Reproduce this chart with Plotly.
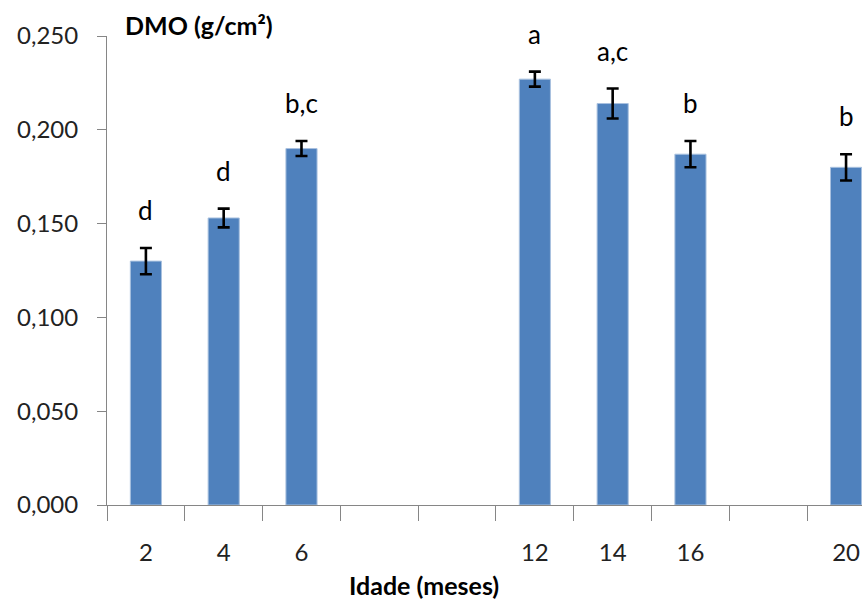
import plotly.graph_objects as go

# Bone mineral density by age group
ages = [2, 4, 6, 12, 14, 16, 20]
dmo = [0.130, 0.153, 0.190, 0.227, 0.214, 0.187, 0.180]
dmo_err = [0.007, 0.005, 0.004, 0.004, 0.008, 0.007, 0.007]
letters = ["d", "d", "b,c", "a", "a,c", "b", "b"]

# category axis runs 2..20 in steps of 2 (some slots empty)
all_slots = list(range(2, 22, 2))
pos = [all_slots.index(a) for a in ages]

FONT = "Lato"
BAR = "#4F81BD"
AXIS = "#868686"

fig = go.Figure()
fig.add_trace(go.Bar(
    x=pos, y=dmo, width=0.4,
    marker=dict(color=BAR, line=dict(color="#A9C1DF", width=1)),
    error_y=dict(type="data", array=dmo_err, visible=True,
                 color="black", thickness=2.6, width=6),
    showlegend=False,
))

# significance letters above each bar
for p, v, e, t in zip(pos, dmo, dmo_err, letters):
    fig.add_annotation(x=p, y=v + e, text=t, showarrow=False,
                       yanchor="middle", yshift=38,
                       font=dict(family=FONT, size=26, color="black"))

fig.add_annotation(x=0, xref="paper", y=1.0, yref="paper",
                   xanchor="left", yanchor="middle", xshift=16, yshift=11,
                   text="<b>DMO (g/cm²)</b>", showarrow=False,
                   font=dict(family=FONT, size=25, color="black"))
fig.add_annotation(x=3.58, xref="x", y=0, yref="paper",
                   xanchor="center", yanchor="middle", yshift=-80,
                   text="<b>Idade (meses)</b>", showarrow=False,
                   font=dict(family=FONT, size=25, color="black"))

fig.update_layout(
    width=862, height=603,
    margin=dict(l=107, r=0, t=36, b=98),
    plot_bgcolor="white", paper_bgcolor="white",
    separators=",.",
    bargap=0.6,
    xaxis=dict(
        range=[-0.5, 9.205],
        tickmode="array", tickvals=pos, ticktext=[str(a) for a in ages],
        ticks="", ticklabelstandoff=26,
        showline=True, linecolor=AXIS, linewidth=1,
        showgrid=False, zeroline=False,
        tickfont=dict(family=FONT, size=24, color="#222"),
        minor=dict(tickmode="array",
                   tickvals=[i - 0.5 for i in range(len(all_slots))],
                   ticks="outside", ticklen=15, tickcolor=AXIS, tickwidth=1,
                   showgrid=False),
    ),
    yaxis=dict(
        range=[0, 0.25], tickmode="linear", tick0=0, dtick=0.05,
        tickformat=".3f",
        ticks="outside", ticklen=9, tickcolor=AXIS, ticklabelstandoff=14,
        showline=True, linecolor=AXIS, linewidth=1,
        showgrid=False, zeroline=False,
        tickfont=dict(family=FONT, size=24, color="#222"),
    ),
)

fig.write_html("out.html")
